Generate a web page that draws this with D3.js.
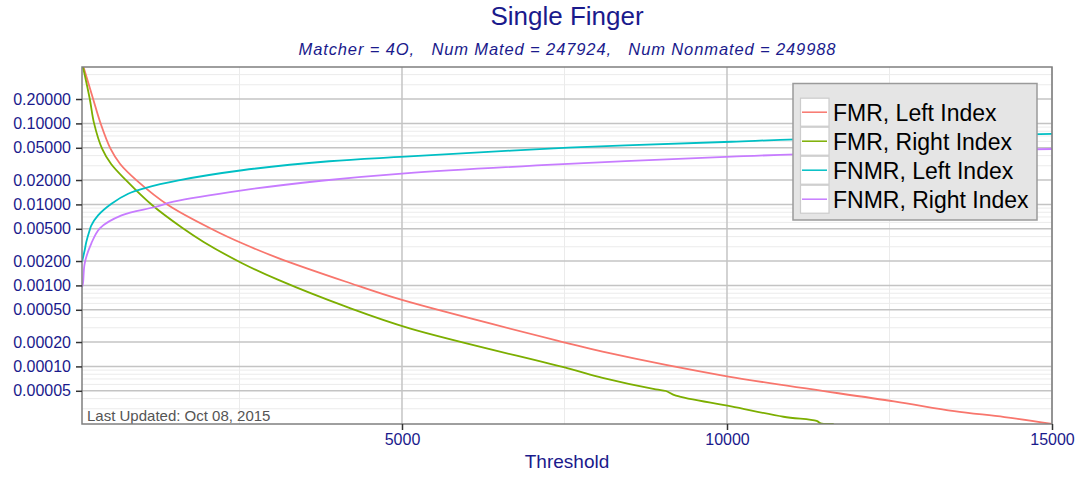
<!DOCTYPE html>
<html>
<head>
<meta charset="utf-8">
<script src="https://cdn.jsdelivr.net/npm/d3@7"></script>
<style>
  html, body { margin: 0; padding: 0; background: #ffffff; }
  svg { display: block; font-family: "Liberation Sans", Arial, sans-serif; }
</style>
</head>
<body>
<svg id="chart" width="1080" height="477"></svg>
<script>
// ---- data ----
const title = "Single Finger";
const subtitle = "Matcher = 4O,   Num Mated = 247924,   Num Nonmated = 249988";
const xLabel = "Threshold";
const footnote = "Last Updated: Oct 08, 2015";

const seriesNames = ["FMR, Left Index", "FMR, Right Index", "FNMR, Left Index", "FNMR, Right Index"];
const seriesColors = ["#F8766D", "#7CAE00", "#00BFC4", "#C77CFF"];

const fmrLeftT = [77,108,247,363,515,664,917,1407,2102,2540,3107,4139,5000,7555,8086,10000,12570,13497,14270,15000];
const fmrLeftV = [0.56,0.473,0.2016,0.1,0.0487,0.0315,0.0198,0.00975,0.00483,0.00331,0.00216,0.00111,0.000661,0.000193,0.000152,7.55e-5,3.7e-5,2.81e-5,2.37e-5,1.95e-5];

const fmrRightT = [77,92,196,263,386,525,757,1159,1612,1948,2540,3107,4139,5117,7555,8086,8905,9060,9214,10064,10869,11379,11441,11642];
const fmrRightV = [0.56,0.497,0.2016,0.1,0.0487,0.0315,0.0198,0.00975,0.00518,0.00344,0.00188,0.00116,0.000546,0.000295,9.46e-5,7.24e-5,5.21e-5,4.97e-5,4.35e-5,3.21e-5,2.39e-5,2.12e-5,1.98e-5,1.95e-5];

const fnmrLeftT = [77,119,143,196,221,324,530,788,1046,1561,2540,3880,5045,7555,10069,11074,15000];
const fnmrLeftV = [0.00195,0.00274,0.00344,0.00483,0.00552,0.00733,0.0102,0.01354,0.0159,0.0198,0.0264,0.0341,0.0388,0.0501,0.0594,0.0636,0.0742];

const fnmrRightT = [77,92,119,221,355,685,1201,1484,2540,3757,5045,7555,10069,11074,15000];
const fnmrRightV = [0.00095,0.00106,0.00188,0.00331,0.0051,0.00733,0.00929,0.0108,0.01493,0.0196,0.0242,0.0316,0.0388,0.0415,0.0483];

const xTicks = [5000, 10000, 15000];
const xMinorTicks = [2500, 7500, 12500];
const yTicks = [0.2, 0.1, 0.05, 0.02, 0.01, 0.005, 0.002, 0.001, 0.0005, 0.0002, 0.0001, 0.00005];
const xDomain = [77, 15000];
const yDomain = [1.945e-5, 0.497];

// ---- layout ----
const svg = d3.select("#chart");
const L = 82, R = 1052, T = 67, B = 424;
const textBlue = "#1a1a8c";

const x = d3.scaleLinear().domain(xDomain).range([L, R]);
const y = d3.scaleLog().domain(yDomain).range([B, T]);

svg.append("rect").attr("x", L).attr("y", T).attr("width", R - L).attr("height", B - T).attr("fill", "#ffffff");

// minor horizontal grid: k = 3,4,6,7,8,9 in each decade
const yMinor = [];
for (let e = -6; e <= 0; e++) {
  [3,4,6,7,8,9].forEach(k => {
    const v = k * Math.pow(10, e);
    if (v > yDomain[0] && v < yDomain[1]) yMinor.push(v);
  });
}
const grid = svg.append("g");
grid.selectAll(".ymin").data(yMinor).join("line")
  .attr("x1", L).attr("x2", R).attr("y1", d => y(d)).attr("y2", d => y(d))
  .attr("stroke", "#ebebeb").attr("stroke-width", 1);
grid.selectAll(".xmin").data(xMinorTicks).join("line")
  .attr("x1", d => x(d)).attr("x2", d => x(d)).attr("y1", T).attr("y2", B)
  .attr("stroke", "#ebebeb").attr("stroke-width", 1);
grid.selectAll(".ymaj").data(yTicks).join("line")
  .attr("x1", L).attr("x2", R).attr("y1", d => y(d)).attr("y2", d => y(d))
  .attr("stroke", "#c4c4c4").attr("stroke-width", 1.5);
grid.selectAll(".xmaj").data(xTicks).join("line")
  .attr("x1", d => x(d)).attr("x2", d => x(d)).attr("y1", T).attr("y2", B)
  .attr("stroke", "#c4c4c4").attr("stroke-width", 1.5);

svg.append("clipPath").attr("id", "clip").append("rect")
  .attr("x", L).attr("y", T).attr("width", R - L).attr("height", B - T);

const series = [
  { t: fmrLeftT, v: fmrLeftV },
  { t: fmrRightT, v: fmrRightV },
  { t: fnmrLeftT, v: fnmrLeftV },
  { t: fnmrRightT, v: fnmrRightV }
];
const line = d3.line().x(d => x(d[0])).y(d => y(d[1])).curve(d3.curveCatmullRom.alpha(0.5));
const lines = svg.append("g").attr("clip-path", "url(#clip)");
series.forEach((s, i) => {
  lines.append("path")
    .datum(s.t.map((t, j) => [t, s.v[j]]))
    .attr("d", line)
    .attr("fill", "none")
    .attr("stroke", seriesColors[i])
    .attr("stroke-width", 1.8)
    .attr("stroke-linejoin", "round");
});

svg.append("text").attr("x", L + 5).attr("y", B - 3)
  .attr("font-size", 15).attr("fill", "#555555").text(footnote);

svg.append("rect").attr("x", L).attr("y", T).attr("width", R - L).attr("height", B - T)
  .attr("fill", "none").attr("stroke", "#7f7f7f").attr("stroke-width", 1.5);

const yAxis = svg.append("g").attr("transform", `translate(${L},0)`)
  .call(d3.axisLeft(y).tickValues(yTicks).tickFormat(d3.format(".5f")).tickSize(6).tickPadding(5));
const xAxis = svg.append("g").attr("transform", `translate(0,${B})`)
  .call(d3.axisBottom(x).tickValues(xTicks).tickFormat(d3.format("d")).tickSize(6).tickPadding(4));
[yAxis, xAxis].forEach(a => {
  a.select(".domain").remove();
  a.selectAll(".tick line").attr("stroke", "#333333").attr("stroke-width", 1.5);
  a.selectAll(".tick text").attr("fill", textBlue).attr("font-size", 16)
    .attr("font-family", "Liberation Sans, Arial, sans-serif");
});

const cx = (L + R) / 2;
svg.append("text").attr("x", cx).attr("y", 25).attr("text-anchor", "middle")
  .attr("font-size", 26).attr("fill", textBlue).text(title);
svg.append("text").attr("x", cx).attr("y", 55).attr("text-anchor", "middle")
  .attr("font-size", 16.5).attr("font-style", "italic").attr("fill", textBlue)
  .attr("textLength", 537).attr("lengthAdjust", "spacing")
  .style("white-space", "pre").text(subtitle);
svg.append("text").attr("x", cx).attr("y", 468).attr("text-anchor", "middle")
  .attr("font-size", 19).attr("fill", textBlue).text(xLabel);

const lg = svg.append("g");
lg.append("rect").attr("x", 793).attr("y", 83.5).attr("width", 244).attr("height", 136.5)
  .attr("fill", "#e5e5e5").attr("stroke", "#9a9a9a").attr("stroke-width", 1.5);
seriesNames.forEach((name, i) => {
  const ky = 97.7 + i * 29;
  lg.append("rect").attr("x", 800.5).attr("y", ky + 0.5).attr("width", 28.5).attr("height", 28)
    .attr("fill", "#ffffff").attr("stroke", "#cccccc").attr("stroke-width", 1.2);
  lg.append("line").attr("x1", 802).attr("x2", 827).attr("y1", ky + 14.5).attr("y2", ky + 14.5)
    .attr("stroke", seriesColors[i]).attr("stroke-width", 1.5);
  lg.append("text").attr("x", 833).attr("y", ky + 23).attr("font-size", 23)
    .attr("fill", "#000000").text(name);
});
</script>
</body>
</html>
